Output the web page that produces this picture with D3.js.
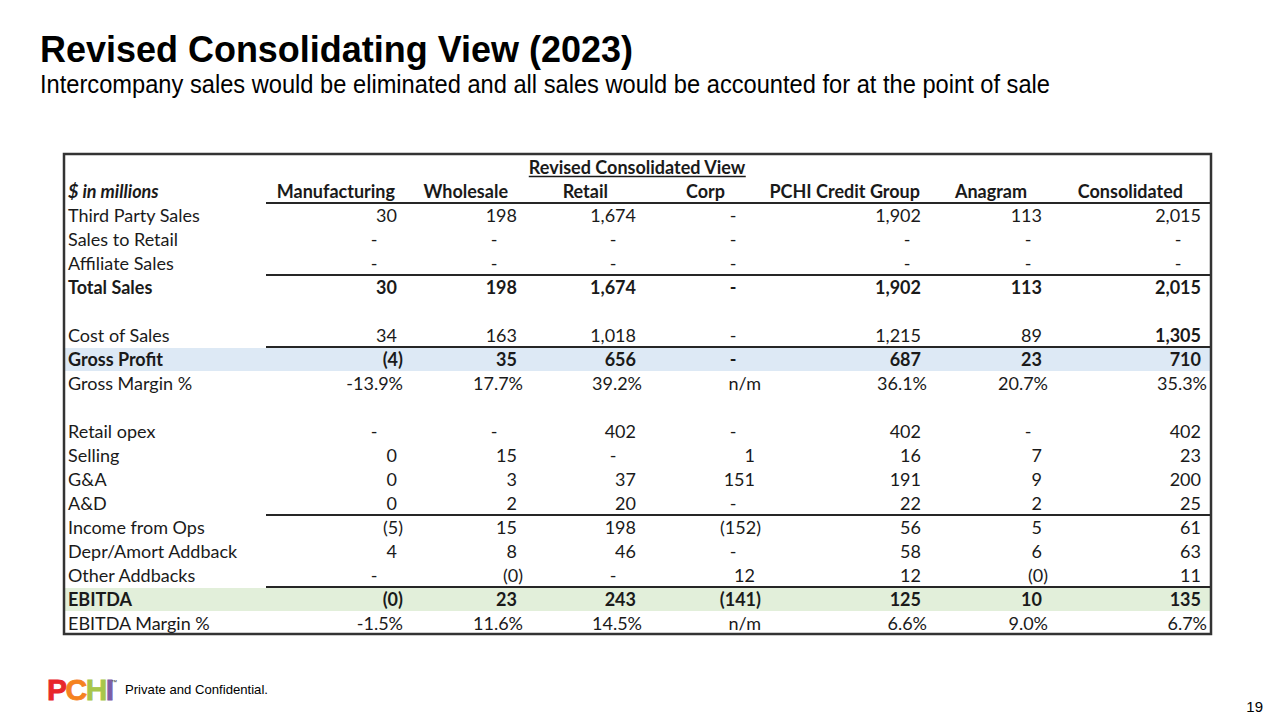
<!DOCTYPE html>
<html>
<head>
<meta charset="utf-8">
<script src="https://cdn.jsdelivr.net/npm/d3@7"></script>
<style>
  html, body { margin: 0; padding: 0; background: #ffffff; }
  svg { display: block; }
</style>
</head>
<body>
<svg id="chart" width="1280" height="720"></svg>
<script>
// ---------- DATA ----------
const slideTitle = "Revised Consolidating View (2023)";
const slideSubtitle = "Intercompany sales would be eliminated and all sales would be accounted for at the point of sale";
const tableTitle = "Revised Consolidated View";
const unitLabel = "$ in millions";
const columns = ["Manufacturing", "Wholesale", "Retail", "Corp", "PCHI Credit Group", "Anagram", "Consolidated"];

const thirdPartySales   = ["30", "198", "1,674", "-", "1,902", "113", "2,015"];
const salesToRetail     = ["-", "-", "-", "-", "-", "-", "-"];
const affiliateSales    = ["-", "-", "-", "-", "-", "-", "-"];
const totalSales        = ["30", "198", "1,674", "-", "1,902", "113", "2,015"];
const costOfSales       = ["34", "163", "1,018", "-", "1,215", "89", "1,305"];
const grossProfit       = ["(4)", "35", "656", "-", "687", "23", "710"];
const grossMargin       = ["-13.9%", "17.7%", "39.2%", "n/m", "36.1%", "20.7%", "35.3%"];
const retailOpex        = ["-", "-", "402", "-", "402", "-", "402"];
const selling           = ["0", "15", "-", "1", "16", "7", "23"];
const gAndA             = ["0", "3", "37", "151", "191", "9", "200"];
const aAndD             = ["0", "2", "20", "-", "22", "2", "25"];
const incomeFromOps     = ["(5)", "15", "198", "(152)", "56", "5", "61"];
const deprAmortAddback  = ["4", "8", "46", "-", "58", "6", "63"];
const otherAddbacks     = ["-", "(0)", "-", "12", "12", "(0)", "11"];
const ebitda            = ["(0)", "23", "243", "(141)", "125", "10", "135"];
const ebitdaMargin      = ["-1.5%", "11.6%", "14.5%", "n/m", "6.6%", "9.0%", "6.7%"];

const rowLabels = ["Third Party Sales", "Sales to Retail", "Affiliate Sales", "Total Sales", "",
  "Cost of Sales", "Gross Profit", "Gross Margin %", "", "Retail opex", "Selling", "G&A", "A&D",
  "Income from Ops", "Depr/Amort Addback", "Other Addbacks", "EBITDA", "EBITDA Margin %"];
const rowValues = [thirdPartySales, salesToRetail, affiliateSales, totalSales, null,
  costOfSales, grossProfit, grossMargin, null, retailOpex, selling, gAndA, aAndD,
  incomeFromOps, deprAmortAddback, otherAddbacks, ebitda, ebitdaMargin];

const boldRows = ["Total Sales", "Gross Profit", "EBITDA"];
const highlightRows = { "Gross Profit": "#dde9f5", "EBITDA": "#e2efda" };
const ruleAboveRows = ["Total Sales", "Gross Profit", "Income from Ops", "EBITDA"];
const footerText = "Private and Confidential.";
const pageNumber = "19";

// ---------- LAYOUT ----------
const svg = d3.select("#chart");
const FONT = "Lato, 'Open Sans', sans-serif";
const textColor = "#1a1a1a";
const tableLeft = 64, tableRight = 1211, tableTop = 155, tableBottom = 635;
const rulesLeft = 266;

const nRows = rowLabels.length + 2; // title row + header row
const y = d3.scaleBand().domain(d3.range(nRows)).range([tableTop, tableBottom]);
const xEdge = d3.scaleOrdinal().domain(columns).range([397, 517, 636, 755, 921, 1042, 1201]);
const xHeaderEnd = d3.scaleOrdinal().domain(columns).range([395, 508, 608, 725, 920, 1027, 1183]);
const dashOffset = d3.scaleOrdinal().domain(columns).range([23, 23, 23, 22, 14, 14, 23]);
const baseOff = 18.5;

// Slide title
svg.append("text")
  .attr("x", 40).attr("y", 62)
  .attr("font-family", "'Liberation Sans', Arial, sans-serif")
  .attr("font-weight", "bold").attr("font-size", 37)
  .attr("textLength", 593).attr("lengthAdjust", "spacingAndGlyphs")
  .attr("fill", "#000").text(slideTitle);
svg.append("text")
  .attr("x", 40).attr("y", 93)
  .attr("font-family", "'Liberation Sans', Arial, sans-serif")
  .attr("font-size", 25.5)
  .attr("textLength", 1010).attr("lengthAdjust", "spacingAndGlyphs")
  .attr("fill", "#000").text(slideSubtitle);

// Highlights
const table = svg.append("g");
rowLabels.forEach((lab, i) => {
  if (highlightRows[lab]) {
    table.append("rect")
      .attr("x", tableLeft + 1).attr("width", tableRight - tableLeft - 2)
      .attr("y", y(i + 2) + 1).attr("height", y.bandwidth() - 1)
      .attr("fill", highlightRows[lab]);
  }
});

// Table title (underlined)
const tt = table.append("text")
  .attr("x", 637).attr("y", y(0) + baseOff)
  .attr("text-anchor", "middle")
  .attr("font-family", FONT).attr("font-weight", "bold").attr("font-size", 18)
  .attr("fill", textColor).text(tableTitle);
const ttBox = tt.node().getBBox();
table.append("line")
  .attr("x1", ttBox.x).attr("x2", ttBox.x + ttBox.width)
  .attr("y1", y(0) + baseOff + 3).attr("y2", y(0) + baseOff + 3)
  .attr("stroke", textColor).attr("stroke-width", 1.3);

// Header row
table.append("text")
  .attr("x", 68).attr("y", y(1) + baseOff)
  .attr("font-family", FONT).attr("font-weight", "bold").attr("font-style", "italic")
  .attr("font-size", 18).attr("fill", textColor).text(unitLabel);
table.selectAll("text.colhead").data(columns).join("text")
  .attr("class", "colhead")
  .attr("x", d => xHeaderEnd(d)).attr("y", y(1) + baseOff)
  .attr("text-anchor", "end")
  .attr("font-family", FONT).attr("font-weight", "bold").attr("font-size", 18)
  .attr("fill", textColor).text(d => d);

// Rules
const ruleYs = [y(2)].concat(rowLabels.map((l, i) => ruleAboveRows.includes(l) ? y(i + 2) : null).filter(v => v !== null));
table.selectAll("line.rule").data(ruleYs).join("line")
  .attr("class", "rule")
  .attr("x1", rulesLeft).attr("x2", tableRight)
  .attr("y1", d => d).attr("y2", d => d)
  .attr("stroke", "#262626").attr("stroke-width", 2);

// Row labels and values
rowLabels.forEach((lab, i) => {
  const r = i + 2;
  const yy = y(r) + baseOff;
  const bold = boldRows.includes(lab);
  if (lab) {
    table.append("text")
      .attr("x", 68).attr("y", yy)
      .attr("font-family", FONT).attr("font-weight", bold ? "bold" : "normal")
      .attr("font-size", 18).attr("fill", textColor).text(lab);
  }
  const vals = rowValues[i];
  if (!vals) return;
  table.selectAll(null).data(vals.map((v, j) => ({ v, col: columns[j] }))).join("text")
    .attr("y", yy)
    .attr("x", d => {
      const e = xEdge(d.col);
      if (d.v === "-") return e - dashOffset(d.col);
      if (/[)%]$/.test(d.v) || d.v === "n/m") return e + 6;
      return e;
    })
    .attr("text-anchor", d => d.v === "-" ? "middle" : "end")
    .attr("font-family", FONT)
    .attr("font-weight", d => (bold || (lab === "Cost of Sales" && d.col === "Consolidated")) ? "bold" : "normal")
    .attr("font-size", 18).attr("fill", textColor)
    .text(d => d.v);
});

// Outer border
table.append("rect")
  .attr("x", tableLeft).attr("y", tableTop - 1)
  .attr("width", tableRight - tableLeft).attr("height", tableBottom - tableTop)
  .attr("fill", "none").attr("stroke", "#333").attr("stroke-width", 2.5);

// Footer logo
const logo = svg.append("text")
  .attr("x", 47).attr("y", 700)
  .attr("font-family", "'Liberation Sans', Arial, sans-serif")
  .attr("font-weight", "bold").attr("font-size", 30)
  .attr("letter-spacing", -1.5);
const logoLetters = [["P", "#e8262b"], ["C", "#f5821f"], ["H", "#a8c64a"], ["I", "#7b5ea7"]];
logo.selectAll("tspan").data(logoLetters).join("tspan")
  .attr("fill", d => d[1]).attr("stroke", d => d[1]).attr("stroke-width", 0.8)
  .text(d => d[0]);
svg.append("text").attr("x", 111).attr("y", 684)
  .attr("font-family", "'Liberation Sans', Arial, sans-serif").attr("font-size", 6)
  .attr("fill", "#333").text("™");
svg.append("text").attr("x", 125).attr("y", 694)
  .attr("font-family", "'Liberation Sans', Arial, sans-serif").attr("font-size", 13)
  .attr("textLength", 143).attr("lengthAdjust", "spacingAndGlyphs")
  .attr("fill", "#000").text(footerText);
svg.append("text").attr("x", 1263).attr("y", 712)
  .attr("text-anchor", "end")
  .attr("font-family", "'Liberation Sans', Arial, sans-serif").attr("font-size", 15)
  .attr("fill", "#000").text(pageNumber);
</script>
</body>
</html>
